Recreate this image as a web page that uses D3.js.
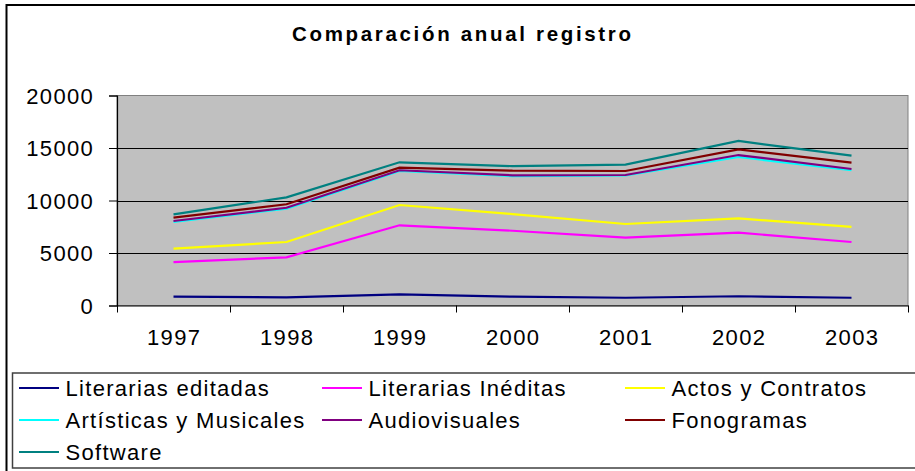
<!DOCTYPE html>
<html>
<head>
<meta charset="utf-8">
<script src="https://cdn.jsdelivr.net/npm/d3@7/dist/d3.min.js"></script>
<style>
  html, body { margin: 0; padding: 0; background: #fff; }
  svg { display: block; }
  text { font-family: "Liberation Sans", Arial, sans-serif; fill: #000; }
</style>
</head>
<body>
<svg id="chart" width="915" height="471"></svg>
<script>
const title = "Comparación anual registro";
const categories = ["1997", "1998", "1999", "2000", "2001", "2002", "2003"];
const yTicks = [0, 5000, 10000, 15000, 20000];
const seriesNames = ["Literarias editadas", "Literarias Inéditas", "Actos y Contratos",
  "Artísticas y Musicales", "Audiovisuales", "Fonogramas", "Software"];
const literariasEditadas = [850, 780, 1050, 840, 740, 880, 740];
const literariasIneditas = [4140, 4590, 7640, 7120, 6460, 6940, 6050];
const actosContratos = [5410, 6050, 9570, 8710, 7760, 8300, 7480];
const artisticasMusicales = [7960, 9220, 12820, 12330, 12380, 14140, 12880];
const audiovisuales = [8050, 9310, 12880, 12400, 12430, 14330, 13000];
const fonogramas = [8370, 9640, 13130, 12840, 12810, 14870, 13600];
const software = [8680, 10300, 13640, 13270, 13410, 15670, 14270];
const seriesValues = [literariasEditadas, literariasIneditas, actosContratos,
  artisticasMusicales, audiovisuales, fonogramas, software];
const seriesColors = ["#000080", "#FF00FF", "#FFFF00", "#00FFFF", "#800080", "#800000", "#008080"];

const svg = d3.select("#chart");
const FS = 22;   // font size
const LS = 1.3;  // letter spacing
const plot = { left: 117, right: 908, top: 95.5, bottom: 305.5 };

// outer chart border
svg.append("rect").attr("x", 6.5).attr("y", 5).attr("width", 930).attr("height", 480)
  .attr("fill", "#fff").attr("stroke", "#000").attr("stroke-width", 2);

// title
svg.append("text").attr("x", 292).attr("y", 40.5)
  .attr("font-size", 20.5).attr("font-weight", "bold")
  .attr("textLength", 339).attr("lengthAdjust", "spacing")
  .text(title);

const x = d3.scaleBand().domain(categories).range([plot.left, plot.right]).padding(0);
const y = d3.scaleLinear().domain([0, 20000]).range([plot.bottom, plot.top]);

// plot area
svg.append("rect").attr("x", plot.left).attr("y", plot.top)
  .attr("width", plot.right - plot.left).attr("height", plot.bottom - plot.top)
  .attr("fill", "#C0C0C0").attr("stroke", "#808080").attr("stroke-width", 1);

// gridlines
svg.append("g").selectAll("line").data(yTicks.filter(d => d > 0 && d < 20000)).join("line")
  .attr("x1", plot.left).attr("x2", plot.right)
  .attr("y1", d => Math.round(y(d)) + 0.5).attr("y2", d => Math.round(y(d)) + 0.5)
  .attr("stroke", "#000").attr("stroke-width", 1);

// y axis
const yAxis = svg.append("g").attr("transform", `translate(${plot.left},0)`)
  .call(d3.axisLeft(y).tickValues(yTicks).tickSize(8).tickFormat(d3.format("d")));
yAxis.select(".domain").attr("stroke", "#000").attr("stroke-width", 1.2);
yAxis.selectAll(".tick line").attr("stroke", "#000");
yAxis.selectAll(".tick text").attr("x", -24.3 + LS).attr("dy", "0.36em")
  .attr("font-size", FS).attr("letter-spacing", LS)
  .attr("font-family", "Liberation Sans, Arial, sans-serif").attr("fill", "#000");

// x axis
const xAxis = svg.append("g").attr("transform", `translate(0,${plot.bottom})`)
  .call(d3.axisBottom(x).tickSize(0).tickPadding(0));
xAxis.select(".domain").attr("stroke", "#000").attr("stroke-width", 1.2);
xAxis.selectAll(".tick text").attr("y", 39.5).attr("dy", 0).attr("dx", LS / 2)
  .attr("font-size", FS).attr("letter-spacing", LS)
  .attr("font-family", "Liberation Sans, Arial, sans-serif").attr("fill", "#000");
const boundaries = categories.map(c => x(c)).concat([x(categories[categories.length - 1]) + x.bandwidth()]);
svg.append("g").selectAll("line").data(boundaries).join("line")
  .attr("x1", d => Math.round(d) + 0.5).attr("x2", d => Math.round(d) + 0.5)
  .attr("y1", plot.bottom).attr("y2", plot.bottom + 7)
  .attr("stroke", "#000").attr("stroke-width", 1);

// lines
const line = d3.line()
  .x((d, i) => x(categories[i]) + x.bandwidth() / 2)
  .y(d => y(d));
svg.append("g").selectAll("path").data(seriesValues).join("path")
  .attr("d", d => line(d))
  .attr("fill", "none")
  .attr("stroke", (d, i) => seriesColors[i])
  .attr("stroke-width", 2.2)
  .attr("stroke-linejoin", "miter");

// legend
const legend = svg.append("g");
legend.append("rect").attr("x", 12.5).attr("y", 373).attr("width", 920).attr("height", 95)
  .attr("fill", "#fff").attr("stroke", "#404040").attr("stroke-width", 1.5);
const colX = [19, 322, 625];
const rowY = [388, 420, 452];
const items = legend.selectAll("g.item").data(seriesNames).join("g")
  .attr("class", "item")
  .attr("transform", (d, i) => `translate(${colX[i % 3]},${rowY[Math.floor(i / 3)]})`);
items.append("line").attr("x1", 0).attr("x2", 40).attr("y1", 0).attr("y2", 0)
  .attr("stroke", (d, i) => seriesColors[i]).attr("stroke-width", 2.2);
items.append("text").attr("x", 46.5).attr("y", 7.8)
  .attr("font-size", FS).attr("letter-spacing", LS)
  .text(d => d);
</script>
</body>
</html>
